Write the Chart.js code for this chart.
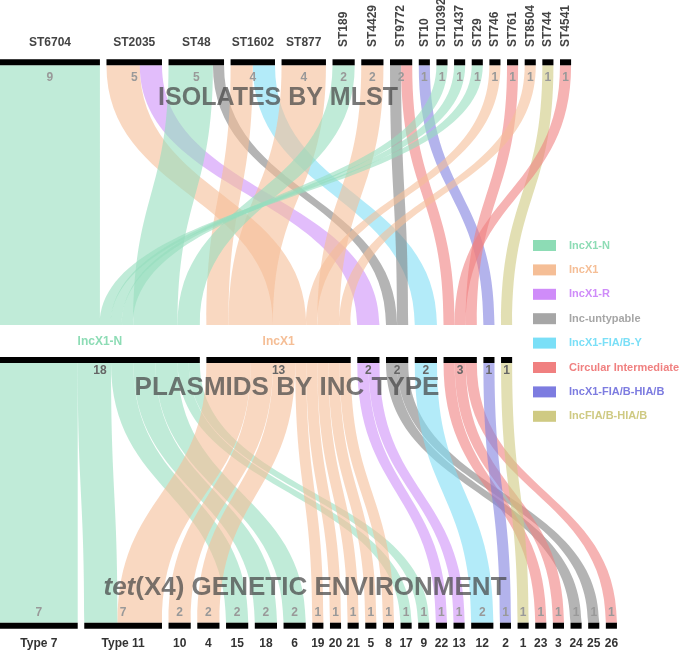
<!DOCTYPE html>
<html>
<head>
<meta charset="utf-8">
<script src="https://cdn.jsdelivr.net/npm/chart.js@4.4.1/dist/chart.umd.min.js"></script>
<style>
  html, body { margin: 0; padding: 0; background: #fff; }
  #wrap { width: 685px; height: 650px; }
</style>
</head>
<body>
<div id="wrap"><canvas id="chart"></canvas></div>
<script>
// isolates by MLST (top row)
const mlstNames = ['ST6704', 'ST2035', 'ST48', 'ST1602', 'ST877', 'ST189', 'ST4429', 'ST9772', 'ST10',
  'ST10392', 'ST1437', 'ST29', 'ST746', 'ST761', 'ST8504', 'ST744', 'ST4541'];
const mlstCounts = [9, 5, 5, 4, 4, 2, 2, 2, 1, 1, 1, 1, 1, 1, 1, 1, 1];

// plasmids by Inc type (middle row)
const incNames = ['IncX1-N', 'IncX1', 'IncX1-R', 'Inc-untypable', 'IncX1-FIA/B-Y',
  'Circular Intermediate', 'IncX1-FIA/B-HIA/B', 'IncFIA/B-HIA/B'];
const incCounts = [18, 13, 2, 2, 2, 3, 1, 1];

// tet(X4) genetic environment (bottom row)
const envNames = ['Type 7', 'Type 11', '10', '4', '15', '18', '6', '19', '20', '21', '5', '8', '17', '9',
  '22', '13', '12', '2', '1', '23', '3', '24', '25', '26'];
const envCounts = [7, 7, 2, 2, 2, 2, 2, 1, 1, 1, 1, 1, 1, 1, 1, 1, 2, 1, 1, 1, 1, 1, 1, 1];

// links MLST -> Inc type
const mlstIncLinks = [
  ['ST6704', 'IncX1-N', 9],
  ['ST2035', 'IncX1', 3], ['ST2035', 'IncX1-R', 2],
  ['ST48', 'IncX1-N', 4], ['ST48', 'Inc-untypable', 1],
  ['ST1602', 'IncX1', 2], ['ST1602', 'IncX1-FIA/B-Y', 2],
  ['ST877', 'IncX1', 4],
  ['ST189', 'IncX1-N', 2],
  ['ST4429', 'IncX1', 2],
  ['ST9772', 'Inc-untypable', 1], ['ST9772', 'Circular Intermediate', 1],
  ['ST10', 'IncX1-FIA/B-HIA/B', 1],
  ['ST10392', 'IncX1-N', 1], ['ST1437', 'IncX1-N', 1], ['ST29', 'IncX1-N', 1],
  ['ST746', 'IncX1', 1],
  ['ST761', 'Circular Intermediate', 1],
  ['ST8504', 'IncX1', 1],
  ['ST744', 'IncFIA/B-HIA/B', 1],
  ['ST4541', 'Circular Intermediate', 1]
];
// stacking order of the incoming flows where it is not left to right
const incInputOrder = {
  'IncX1-N': ['ST6704', 'ST29', 'ST1437', 'ST10392', 'ST48', 'ST189'],
  'IncX1': ['ST1602', 'ST877', 'ST2035', 'ST746', 'ST4429', 'ST8504'],
  'Circular Intermediate': ['ST9772', 'ST4541', 'ST761']
};

// links Inc type -> genetic environment
const incEnvLinks = [
  ['IncX1-N', 'Type 7', 7], ['IncX1-N', 'Type 11', 3], ['IncX1-N', '15', 2], ['IncX1-N', '18', 2],
  ['IncX1-N', '6', 2], ['IncX1-N', '17', 1], ['IncX1-N', '9', 1],
  ['IncX1', 'Type 11', 4], ['IncX1', '10', 2], ['IncX1', '4', 2], ['IncX1', '19', 1], ['IncX1', '20', 1],
  ['IncX1', '21', 1], ['IncX1', '5', 1], ['IncX1', '8', 1],
  ['IncX1-R', '22', 1], ['IncX1-R', '13', 1],
  ['Inc-untypable', '24', 1], ['Inc-untypable', '25', 1],
  ['IncX1-FIA/B-Y', '12', 2],
  ['Circular Intermediate', '23', 1], ['Circular Intermediate', '3', 1], ['Circular Intermediate', '26', 1],
  ['IncX1-FIA/B-HIA/B', '2', 1],
  ['IncFIA/B-HIA/B', '1', 1]
];

const incColors = ['#8ddcb5', '#f5be96', '#cf8cf9', '#a6a6a6', '#7adff7', '#f08080', '#7d7ce0', '#cfca83'];
const flowColors = ['rgba(150,222,190,0.6)', 'rgba(245,190,152,0.6)', 'rgba(207,145,248,0.6)',
  'rgba(130,130,130,0.6)', 'rgba(128,222,245,0.6)', 'rgba(240,128,128,0.6)',
  'rgba(128,128,223,0.6)', 'rgba(207,202,128,0.6)'];

const FONT = '"Liberation Sans", Arial, sans-serif';
const GAP = 0.59;          // gap between nodes, in count units
const X_MAX = 61.7;
// vertical levels (y scale runs 0..650 top to bottom)
const TOP_BAR = 62.3, MID_BAR = 360, BOT_BAR = 625.7;
const TOP_FLOW = [65.3, 325], BOT_FLOW = [363, 622.7];

function layout(counts) {
  const starts = [];
  let x = 0;
  counts.forEach(c => { starts.push(x); x += c + GAP; });
  return starts;
}
const mlstX = layout(mlstCounts);
const incX = layout(incCounts);
const envX = layout(envCounts);

function buildRibbons(links, srcNames, srcX, tgtNames, tgtX, targetOrder) {
  const srcOff = srcX.slice();
  const ribbons = links.map(([s, t, n]) => {
    const si = srcNames.indexOf(s), ti = tgtNames.indexOf(t);
    const r = {s, t, n, si, ti, sx: srcOff[si]};
    srcOff[si] += n;
    return r;
  });
  tgtNames.forEach((name, ti) => {
    const into = ribbons.filter(r => r.ti === ti);
    const custom = targetOrder && targetOrder[name];
    if (custom) into.sort((a, b) => custom.indexOf(a.s) - custom.indexOf(b.s));
    let x = tgtX[ti];
    into.forEach(r => { r.tx = x; x += r.n; });
  });
  return ribbons;
}

const topRibbons = buildRibbons(mlstIncLinks, mlstNames, mlstX, incNames, incX, incInputOrder);
const botRibbons = buildRibbons(incEnvLinks, incNames, incX, envNames, envX, null);

function barDataset(starts, counts, y) {
  return starts.map((x0, i) => ({
    data: [{x: x0, y: y}, {x: x0 + counts[i], y: y}],
    borderColor: '#000',
    borderWidth: 6,
    pointRadius: 0,
    borderCapStyle: 'butt'
  }));
}

const ribbonPlugin = {
  id: 'ribbons',
  beforeDatasetsDraw(chart) {
    const ctx = chart.ctx, xs = chart.scales.x, ys = chart.scales.y;
    const draw = (r, y0, y1, color) => {
      const a0 = xs.getPixelForValue(r.sx), a1 = xs.getPixelForValue(r.sx + r.n);
      const b0 = xs.getPixelForValue(r.tx), b1 = xs.getPixelForValue(r.tx + r.n);
      const p0 = ys.getPixelForValue(y0), p1 = ys.getPixelForValue(y1);
      const pm = (p0 + p1) / 2;
      ctx.beginPath();
      ctx.moveTo(a0, p0);
      ctx.bezierCurveTo(a0, pm, b0, pm, b0, p1);
      ctx.lineTo(b1, p1);
      ctx.bezierCurveTo(b1, pm, a1, pm, a1, p0);
      ctx.closePath();
      ctx.fillStyle = color;
      ctx.fill();
    };
    ctx.save();
    topRibbons.forEach(r => draw(r, TOP_FLOW[0], TOP_FLOW[1], flowColors[r.ti]));
    botRibbons.forEach(r => draw(r, BOT_FLOW[0], BOT_FLOW[1], flowColors[r.si]));
    ctx.restore();
  },
  afterDatasetsDraw(chart) {
    const ctx = chart.ctx, xs = chart.scales.x, ys = chart.scales.y;
    const cx = (x0, n) => xs.getPixelForValue(x0 + n / 2);
    ctx.save();
    ctx.textAlign = 'center';
    ctx.textBaseline = 'middle';

    // top labels
    ctx.fillStyle = '#444';
    ctx.font = 'bold 12px ' + FONT;
    mlstNames.forEach((name, i) => {
      const x = cx(mlstX[i], mlstCounts[i]);
      if (i < 5) {
        ctx.fillText(name, x, ys.getPixelForValue(42.5));
      } else {
        ctx.save();
        ctx.translate(x, ys.getPixelForValue(47));
        ctx.rotate(-Math.PI / 2);
        ctx.textAlign = 'left';
        ctx.fillText(name, 0, 0);
        ctx.restore();
      }
    });

    // counts
    ctx.font = 'bold 12px ' + FONT;
    ctx.fillStyle = '#999';
    mlstCounts.forEach((n, i) => ctx.fillText(String(n), cx(mlstX[i], n), ys.getPixelForValue(77.5)));
    ctx.fillStyle = '#666';
    incCounts.forEach((n, i) => ctx.fillText(String(n), cx(incX[i], n), ys.getPixelForValue(371)));
    ctx.fillStyle = '#999';
    envCounts.forEach((n, i) => ctx.fillText(String(n), cx(envX[i], n), ys.getPixelForValue(612.5)));

    // middle labels
    ctx.font = 'bold 12px ' + FONT;
    [0, 1].forEach(i => {
      ctx.fillStyle = incColors[i];
      ctx.fillText(incNames[i], cx(incX[i], incCounts[i]), ys.getPixelForValue(342));
    });

    // bottom labels
    ctx.fillStyle = '#333';
    envNames.forEach((name, i) => ctx.fillText(name, cx(envX[i], envCounts[i]), ys.getPixelForValue(643.5)));

    // big overlay titles
    ctx.fillStyle = 'rgba(70,70,70,0.72)';
    ctx.font = 'bold 25px ' + FONT;
    ctx.fillText('ISOLATES BY MLST', 278, ys.getPixelForValue(98));
    ctx.font = 'bold 26px ' + FONT;
    ctx.fillText('PLASMIDS BY INC TYPE', 287, ys.getPixelForValue(388));
    const italic = 'italic bold 26px ' + FONT, upright = 'bold 26px ' + FONT;
    ctx.font = italic;
    const w1 = ctx.measureText('tet').width;
    ctx.font = upright;
    const w2 = ctx.measureText('(X4) GENETIC ENVIRONMENT').width;
    let tx = 305 - (w1 + w2) / 2;
    const ty = ys.getPixelForValue(588);
    ctx.textAlign = 'left';
    ctx.font = italic;
    ctx.fillText('tet', tx, ty);
    ctx.font = upright;
    ctx.fillText('(X4) GENETIC ENVIRONMENT', tx + w1, ty);

    // legend
    ctx.font = 'bold 11px ' + FONT;
    incNames.forEach((name, i) => {
      const y = 245.5 + i * 24.4;
      ctx.fillStyle = incColors[i];
      ctx.fillRect(533, y - 5.5, 23, 11);
      ctx.fillText(name, 569, y);
    });
    ctx.restore();
  }
};

new Chart(document.getElementById('chart'), {
  type: 'line',
  data: {
    datasets: [
      ...barDataset(mlstX, mlstCounts, TOP_BAR),
      ...barDataset(incX, incCounts, MID_BAR),
      ...barDataset(envX, envCounts, BOT_BAR)
    ]
  },
  options: {
    responsive: true,
    maintainAspectRatio: false,
    animation: false,
    layout: {padding: 0},
    plugins: {legend: {display: false}, tooltip: {enabled: false}},
    scales: {
      x: {type: 'linear', min: 0, max: X_MAX, display: false},
      y: {type: 'linear', min: 0, max: 650, reverse: true, display: false}
    }
  },
  plugins: [ribbonPlugin]
});
</script>
</body>
</html>
